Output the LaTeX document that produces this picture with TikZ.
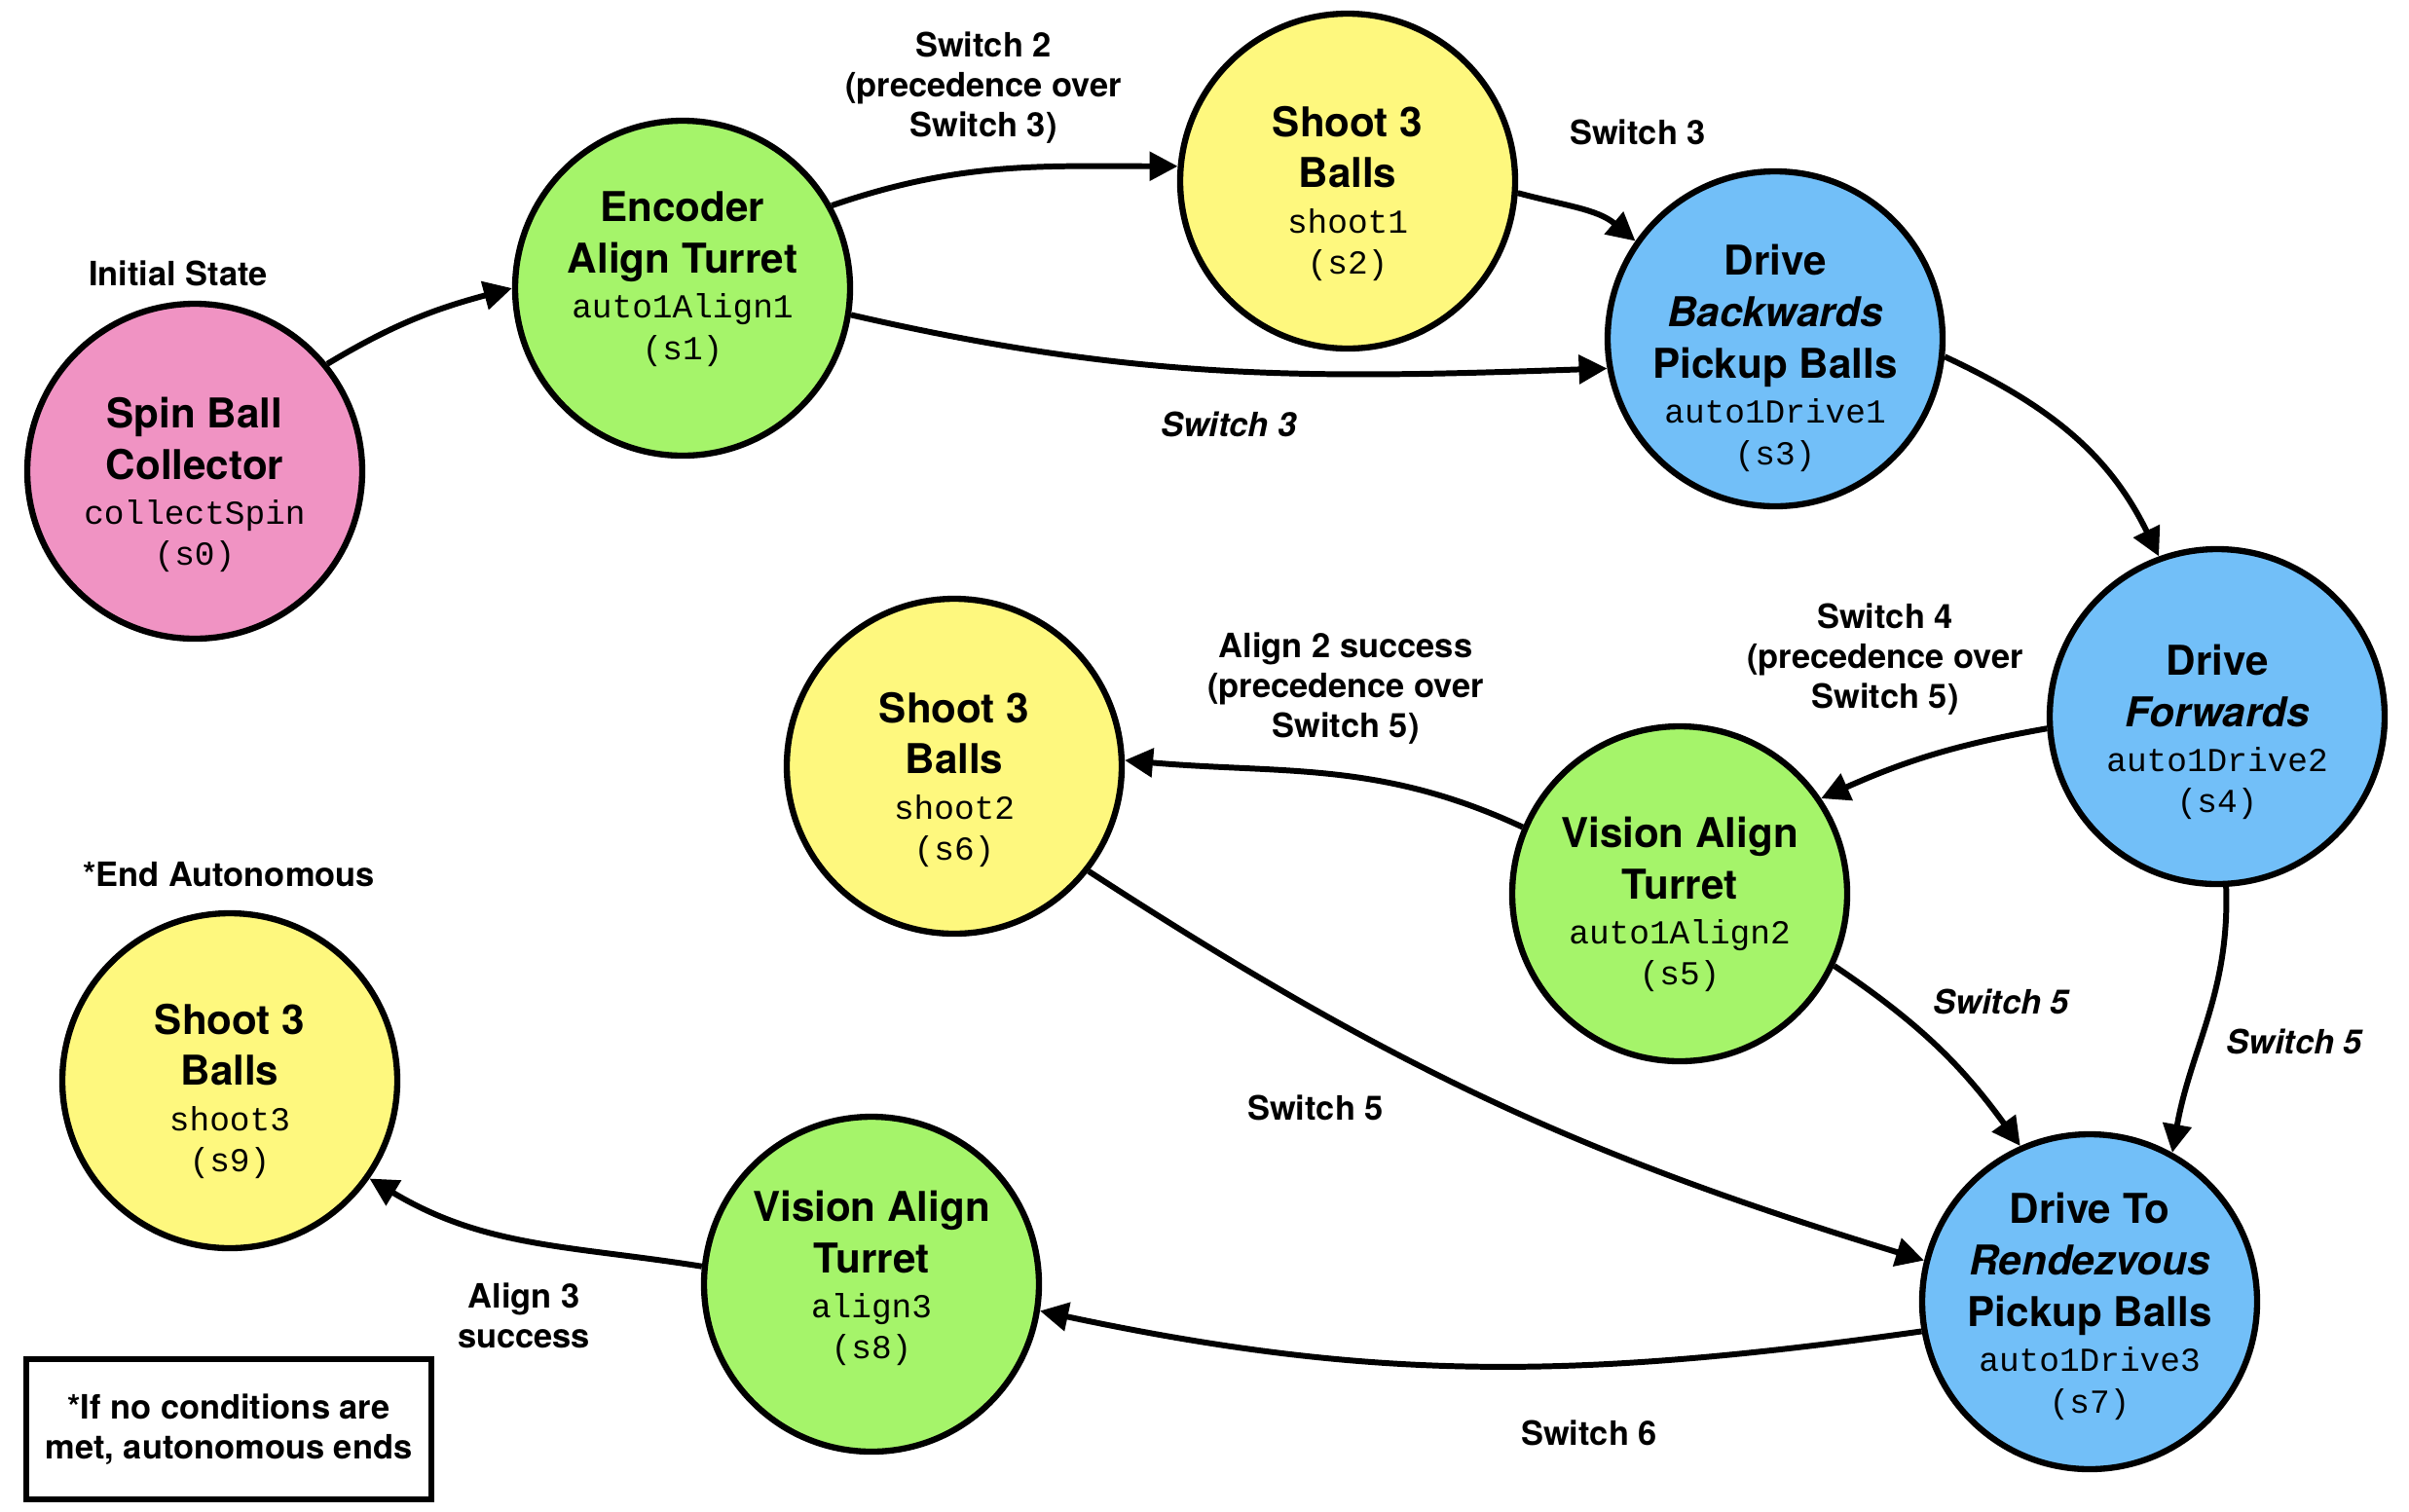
\documentclass[tikz,border=0pt]{standalone}
\usepackage{fontspec}
\setmainfont{TeX Gyre Heros}
\setmonofont{Liberation Mono}
\usetikzlibrary{arrows.meta}

\definecolor{spinPink}{HTML}{F093C3}
\definecolor{alignGreen}{HTML}{A5F46A}
\definecolor{shootYellow}{HTML}{FEF87E}
\definecolor{driveBlue}{HTML}{72BFF8}

\newcommand{\code}[1]{{\fontsize{9.8}{12}\selectfont\ttfamily\mdseries #1}}

\begin{document}
\begin{tikzpicture}[
	state/.style={circle, draw, line width=1.8pt, minimum size=3.44cm, inner sep=0pt},
	statetext/.style={align=center, inner sep=0pt, font=\fontsize{12}{15}\selectfont\bfseries},
	lbl/.style={align=center, font=\fontsize{9.8}{11.7}\selectfont\bfseries},
	trans/.style={-{Triangle[length=0.29cm,width=0.29cm]}, line width=1.7pt}]
	\useasboundingbox (0,0) rectangle (24.74,-15.52);
	% states
		\node[state, fill=spinPink] (s0) at (2.00,-4.84) {};
		\node[state, fill=alignGreen] (s1) at (7.01,-2.96) {};
		\node[state, fill=shootYellow] (s2) at (13.84,-1.86) {};
		\node[state, fill=driveBlue] (s3) at (18.23,-3.48) {};
		\node[state, fill=driveBlue] (s4) at (22.77,-7.36) {};
		\node[state, fill=alignGreen] (s5) at (17.25,-9.18) {};
		\node[state, fill=shootYellow] (s6) at (9.80,-7.87) {};
		\node[state, fill=driveBlue] (s7) at (21.46,-13.37) {};
		\node[state, fill=alignGreen] (s8) at (8.95,-13.19) {};
		\node[state, fill=shootYellow] (s9) at (2.36,-11.10) {};
	% state texts
		\node[statetext] (t0) at ([yshift=-0.14cm]s0) {Spin Ball\\Collector\\[-1.9pt]\code{collectSpin}\\[-2.8pt]\code{(s0)}};
		\node[statetext] (t1) at ([yshift=0.09cm]s1) {Encoder\\Align Turret\\[-1.9pt]\code{auto1Align1}\\[-2.8pt]\code{(s1)}};
		\node[statetext] (t2) at ([yshift=-0.13cm]s2) {Shoot 3\\Balls\\[-1.9pt]\code{shoot1}\\[-2.8pt]\code{(s2)}};
		\node[statetext] (t3) at ([yshift=-0.2cm]s3) {Drive\\\textit{Backwards}\\Pickup Balls\\[-1.9pt]\code{auto1Drive1}\\[-2.8pt]\code{(s3)}};
		\node[statetext] (t4) at ([yshift=-0.16cm]s4) {Drive\\\textit{Forwards}\\[-1.9pt]\code{auto1Drive2}\\[-2.8pt]\code{(s4)}};
		\node[statetext] (t5) at ([yshift=-0.11cm]s5) {Vision Align\\Turret\\[-1.9pt]\code{auto1Align2}\\[-2.8pt]\code{(s5)}};
		\node[statetext] (t6) at ([yshift=-0.14cm]s6) {Shoot 3\\Balls\\[-1.9pt]\code{shoot2}\\[-2.8pt]\code{(s6)}};
		\node[statetext] (t7) at ([yshift=-0.05cm]s7) {Drive To\\\textit{Rendezvous}\\Pickup Balls\\[-1.9pt]\code{auto1Drive3}\\[-2.8pt]\code{(s7)}};
		\node[statetext] (t8) at ([yshift=0.06cm]s8) {Vision Align\\Turret\\[-1.9pt]\code{align3}\\[-2.8pt]\code{(s8)}};
		\node[statetext] (t9) at ([yshift=-0.11cm]s9) {Shoot 3\\Balls\\[-1.9pt]\code{shoot3}\\[-2.8pt]\code{(s9)}};
	% transitions
		\draw[trans] (s0.39) to[out=31,in=195] (s1.180);
		\draw[trans] (s1.29) to[out=19,in=180] (s2.175);
		\draw[trans] (s1.-9) to[out=-13,in=182] (s3.190);
		\draw[trans] (s2.-4) to[out=-15,in=140] (s3.145);
		\draw[trans] (s3.-6) to[out=-25,in=116] (s4.110);
		\draw[trans] (s4.184) to[out=190,in=24] (s5.34);
		\draw[trans] (s5.157) to[out=155,in=-5] (s6.2);
		\draw[trans] (s5.-25) to[out=-34,in=126] (s7.114);
		\draw[trans] (s4.-87) to[out=-88,in=80] (s7.61);
		\draw[trans] (s6.-38) to[out=-33,in=163] (s7.166);
		\draw[trans] (s7.190) to[out=188,in=-12] (s8.-9);
		\draw[trans] (s8.174) to[out=171,in=-31] (s9.-35);
	% labels
		\node[lbl] (lInit) at (1.83,-2.81) {Initial State};
		\node[lbl] (l12) at (10.10,-0.90) {Switch 2\\(precedence over\\Switch 3)};
		\node[lbl] (l23) at (16.82,-1.36) {Switch 3};
		\node[lbl] (l13) at (12.62,-4.36) {\textit{Switch 3}};
		\node[lbl] (l45) at (19.36,-6.77) {Switch 4\\(precedence over\\Switch 5)};
		\node[lbl] (l56) at (13.82,-7.07) {Align 2 success\\(precedence over\\Switch 5)};
		\node[lbl] (lEnd) at (2.35,-8.98) {*End Autonomous};
		\node[lbl] (l57) at (20.56,-10.29) {\textit{Switch 5}};
		\node[lbl] (l47) at (23.57,-10.70) {\textit{Switch 5}};
		\node[lbl] (l67) at (13.51,-11.38) {Switch 5};
		\node[lbl] (l89) at (5.38,-13.51) {Align 3\\success};
		\node[lbl] (l78) at (16.32,-14.72) {Switch 6};
		\node[lbl, draw, line width=1.9pt, minimum width=4.16cm, minimum height=1.44cm] (note) at (2.35,-14.68) {*If no conditions are\\met, autonomous ends};
\end{tikzpicture}
\end{document}
